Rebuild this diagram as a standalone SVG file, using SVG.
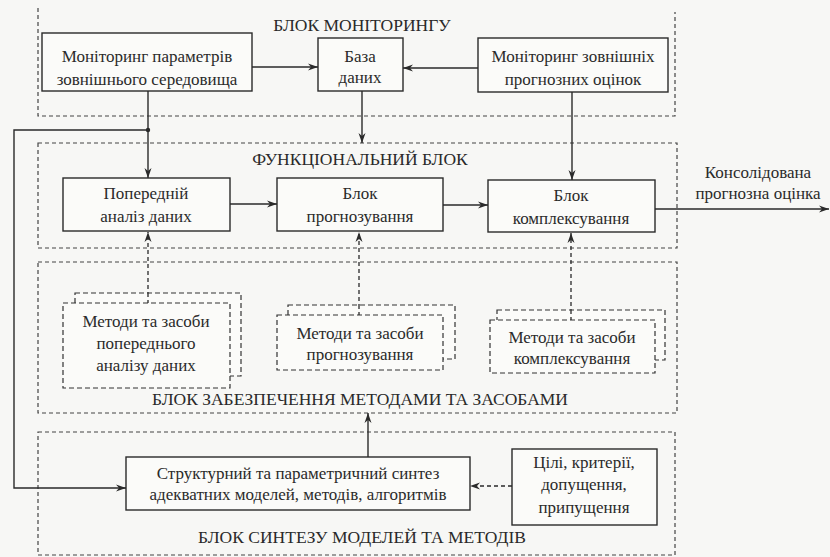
<svg xmlns="http://www.w3.org/2000/svg" width="830" height="557" viewBox="0 0 830 557" font-family="'Liberation Serif', 'DejaVu Serif', 'Times New Roman', serif">
<defs>
<marker id="ah" viewBox="0 0 10 8" refX="10" refY="4" markerWidth="10" markerHeight="8" markerUnits="userSpaceOnUse" orient="auto">
<path d="M0,0.5 L10,4 L0,7.5 L3,4 Z" fill="#2a2a2a"/>
</marker>
</defs>
<style>
.bg{fill:#f7f7f5}
.blk{fill:none;stroke:#444;stroke-width:1.2;stroke-dasharray:4 3}
.box{fill:#fbfbf9;stroke:#2a2a2a;stroke-width:1.4}
.dbox{fill:#fbfbf9;stroke:#333;stroke-width:1.2;stroke-dasharray:5 3}
.ln{fill:none;stroke:#2a2a2a;stroke-width:1.4}
.dl{fill:none;stroke:#2a2a2a;stroke-width:1.3;stroke-dasharray:4 3}
text{font-family:'Liberation Serif','DejaVu Serif','Times New Roman',serif;font-size:17px;fill:#2a2a2a;text-anchor:middle}
.t{font-size:17.5px}
</style>
<rect class="bg" x="0" y="0" width="830" height="557"/>

<g id="block-monitoring">
<path class="blk" d="M38,8 V116 H675 V12"/>
<text class="t" x="362" y="31">БЛОК МОНІТОРИНГУ</text>
</g>
<g id="block-functional">
<rect class="blk" x="38" y="143" width="639" height="105"/>
<text class="t" x="360" y="165">ФУНКЦІОНАЛЬНИЙ БЛОК</text>
</g>
<g id="block-support">
<rect class="blk" x="38" y="262" width="639" height="151"/>
<text class="t" x="360" y="405">БЛОК ЗАБЕЗПЕЧЕННЯ МЕТОДАМИ ТА ЗАСОБАМИ</text>
</g>
<g id="block-synthesis">
<rect class="blk" x="38" y="432" width="637" height="123"/>
<text class="t" x="362" y="543">БЛОК СИНТЕЗУ МОДЕЛЕЙ ТА МЕТОДІВ</text>
</g>

<g id="connectors">
<path class="ln" d="M252,67 H318" marker-end="url(#ah)"/>
<path class="ln" d="M478,68 H403" marker-end="url(#ah)"/>
<path class="ln" d="M148,91 V178" marker-end="url(#ah)"/>
<path class="ln" d="M148,130 H14 V488 H126" marker-end="url(#ah)"/>
<circle cx="148" cy="130" r="2.2" fill="#2a2a2a"/>
<path class="ln" d="M362,91 V143" marker-end="url(#ah)"/>
<path class="ln" d="M572,92 V180" marker-end="url(#ah)"/>
<path class="ln" d="M230,204 H277" marker-end="url(#ah)"/>
<path class="ln" d="M443,205 H488" marker-end="url(#ah)"/>
<path class="ln" d="M655,209 H829" marker-end="url(#ah)"/>
<path class="dl" d="M148,303 V232" marker-end="url(#ah)"/>
<path class="dl" d="M359,315 V232" marker-end="url(#ah)"/>
<path class="dl" d="M571,320 V233" marker-end="url(#ah)"/>
<path class="ln" d="M368,457 V413" marker-end="url(#ah)"/>
<path class="dl" d="M512,486 H470" marker-end="url(#ah)"/>
</g>

<g id="n-monitor-env">
<rect class="box" x="42" y="33" width="210" height="58"/>
<text x="147" y="62">Моніторинг параметрів</text>
<text x="147" y="85">зовнішнього середовища</text>
</g>
<g id="n-database">
<rect class="box" x="318" y="38" width="85" height="53"/>
<text x="360" y="62">База</text>
<text x="360" y="83">даних</text>
</g>
<g id="n-monitor-ext">
<rect class="box" x="478" y="38" width="190" height="54"/>
<text x="573" y="62">Моніторинг зовнішніх</text>
<text x="573" y="85">прогнозних оцінок</text>
</g>

<g id="n-preanalysis">
<rect class="box" x="63" y="178" width="167" height="53"/>
<text x="146" y="199">Попередній</text>
<text x="146" y="222">аналіз даних</text>
</g>
<g id="n-forecast">
<rect class="box" x="277" y="178" width="166" height="53"/>
<text x="360" y="199">Блок</text>
<text x="360" y="222">прогнозування</text>
</g>
<g id="n-complex">
<rect class="box" x="488" y="180" width="167" height="52"/>
<text x="571" y="201">Блок</text>
<text x="571" y="224">комплексування</text>
</g>
<g id="output-label">
<text x="758" y="178">Консолідована</text>
<text x="758" y="199">прогнозна оцінка</text>
</g>

<g id="n-methods-pre">
<rect class="dbox" x="75" y="293" width="166" height="83"/>
<rect class="dbox" x="63" y="303" width="167" height="85"/>
<path class="dl" d="M148,293 V303"/>
<text x="146" y="327">Методи та засоби</text>
<text x="146" y="349">попереднього</text>
<text x="146" y="371">аналізу даних</text>
</g>
<g id="n-methods-forecast">
<rect class="dbox" x="288" y="305" width="167" height="54"/>
<rect class="dbox" x="277" y="315" width="166" height="55"/>
<path class="dl" d="M359,305 V315"/>
<text x="360" y="339">Методи та засоби</text>
<text x="360" y="360">прогнозування</text>
</g>
<g id="n-methods-complex">
<rect class="dbox" x="497" y="310" width="168" height="50"/>
<rect class="dbox" x="490" y="320" width="165" height="53"/>
<path class="dl" d="M571,310 V320"/>
<text x="572" y="343">Методи та засоби</text>
<text x="572" y="364">комплексування</text>
</g>

<g id="n-synthesis">
<rect class="box" x="126" y="457" width="344" height="53"/>
<text x="298" y="479">Структурний та параметричний синтез</text>
<text x="298" y="500">адекватних моделей, методів, алгоритмів</text>
</g>
<g id="n-goals">
<rect class="box" x="512" y="449" width="145" height="76"/>
<text x="584" y="468">Цілі, критерії,</text>
<text x="584" y="490">допущення,</text>
<text x="584" y="513">припущення</text>
</g>
</svg>
